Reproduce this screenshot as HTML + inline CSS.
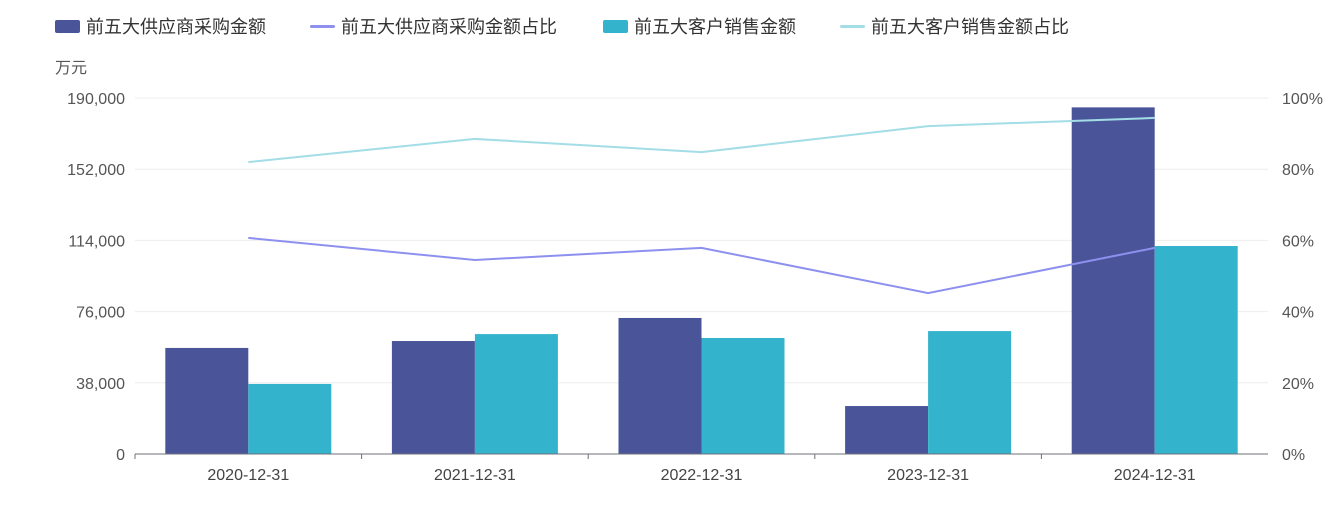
<!DOCTYPE html>
<html><head><meta charset="utf-8"><style>
body{margin:0;background:#fff;font-family:"Liberation Sans","Noto Sans CJK SC",sans-serif;}
svg text{font-family:"Liberation Sans","Noto Sans CJK SC",sans-serif;}
</style></head><body>
<svg id="chart" width="1332" height="507">
<g id="legend">
 <g><rect x="55" y="20" width="25" height="13" rx="2" fill="#4a5599"/><text x="86" y="33" font-size="18" fill="#333">前五大供应商采购金额</text></g>
 <g><rect x="310" y="25" width="25" height="3" rx="1.5" fill="#8d90ef"/><text x="341" y="33" font-size="18" fill="#333">前五大供应商采购金额占比</text></g>
 <g><rect x="603" y="20" width="25" height="13" rx="2" fill="#33b3cc"/><text x="634" y="33" font-size="18" fill="#333">前五大客户销售金额</text></g>
 <g><rect x="840" y="25" width="25" height="3" rx="1.5" fill="#a3dde6"/><text x="871" y="33" font-size="18" fill="#333">前五大客户销售金额占比</text></g>
</g>
<text x="55" y="73" font-size="16" fill="#555">万元</text>
<g id="grid"></g><g id="bars"></g><g id="lines"></g><g id="axes"></g>
</svg>
<script>
const categories=["2020-12-31","2021-12-31","2022-12-31","2023-12-31","2024-12-31"];
const supplierAmount=[56600,60300,72600,25600,185000];
const customerAmount=[37400,64000,61900,65600,111000];
const supplierRatio=[60.7,54.5,57.9,45.2,57.9];
const customerRatio=[82.0,88.5,84.8,92.1,94.4];
const leftTicks=[0,38000,76000,114000,152000,190000];
const rightTicks=[0,20,40,60,80,100];
const NS="http://www.w3.org/2000/svg";
const X0=135,X1=1268,Y0=454,Y1=98;
const bw=(X1-X0)/categories.length;
const yL=v=>Y0-(v/190000)*(Y0-Y1);
const yR=v=>Y0-(v/100)*(Y0-Y1);
const xc=i=>X0+bw*(i+0.5);
function mk(tag,attrs,parent){const e=document.createElementNS(NS,tag);for(const k in attrs)e.setAttribute(k,attrs[k]);document.getElementById(parent).appendChild(e);return e;}
leftTicks.forEach((t,i)=>{
 const y=yL(t);
 if(i>0){const g=mk('line',{x1:X0,x2:X1,y1:y,y2:y,stroke:'#eee'},'grid');
 
 }
 const tx=mk('text',{x:125,y:y+6,'text-anchor':'end','font-size':16,fill:'#555'},'axes');tx.textContent=t.toLocaleString('en-US');
 
 
});
rightTicks.forEach(t=>{
 const tx=mk('text',{x:1282,y:yR(t)+6,'font-size':16,fill:'#555'},'axes');tx.textContent=t+'%';
 
 
});
const ax=mk('line',{x1:X0,x2:X1,y1:Y0,y2:Y0,stroke:'#6e7079'},'axes');


categories.forEach((c,i)=>{
 const tk=mk('line',{x1:X0+bw*i,x2:X0+bw*i,y1:Y0,y2:Y0+5,stroke:'#6e7079'},'axes');
 
 
 const tx=mk('text',{x:xc(i),y:480,'text-anchor':'middle','font-size':16,fill:'#444'},'axes');tx.textContent=c;
 
 
 const b1=mk('rect',{x:xc(i)-83,y:yL(supplierAmount[i]),width:83,height:Y0-yL(supplierAmount[i]),fill:'#4a5599'},'bars');
 
 
 const b2=mk('rect',{x:xc(i),y:yL(customerAmount[i]),width:83,height:Y0-yL(customerAmount[i]),fill:'#33b3cc'},'bars');
 
 
});
const l1=mk('polyline',{points:supplierRatio.map((v,i)=>xc(i)+','+yR(v)).join(' '),fill:'none',stroke:'#8d90ef','stroke-width':2},'lines');


const l2=mk('polyline',{points:customerRatio.map((v,i)=>xc(i)+','+yR(v)).join(' '),fill:'none',stroke:'#a3dde6','stroke-width':2},'lines');


</script>
</body></html>
